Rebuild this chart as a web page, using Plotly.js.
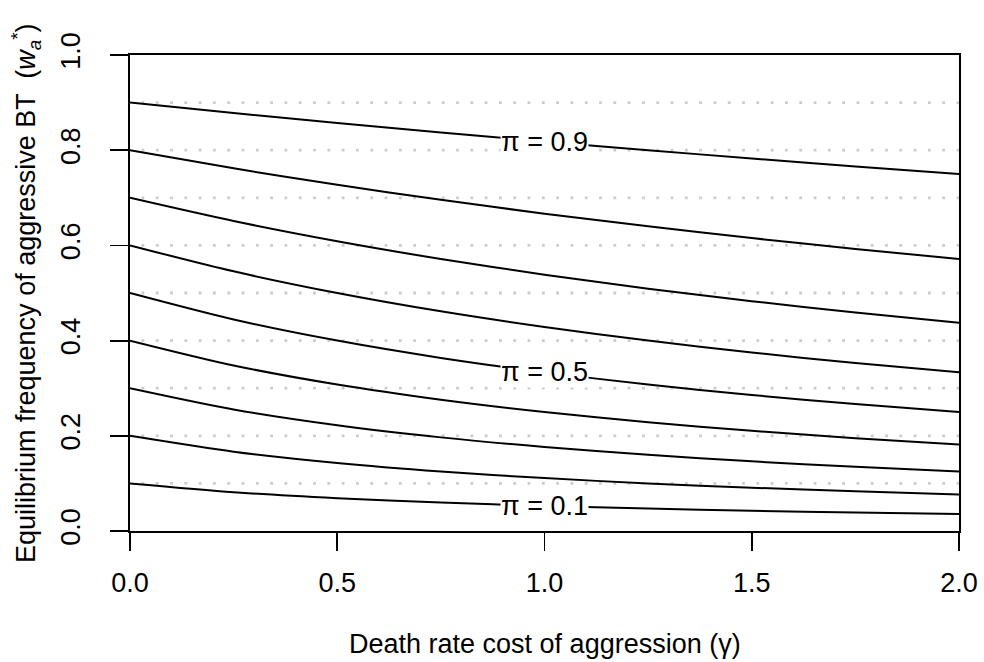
<!DOCTYPE html>
<html>
<head>
<meta charset="utf-8">
<script src="https://cdn.plot.ly/plotly-3.0.1.min.js"></script>
<style>html,body{margin:0;padding:0;background:#fff;}#chart{width:984px;height:662px;}</style>
</head>
<body>
<div id="chart"></div>
<script>
// Death rate cost of aggression (gamma)
const gamma = [0, 0.25, 0.5, 0.75, 1.0, 1.25, 1.5, 1.75, 2.0];
// Equilibrium frequency of aggressive BT for each pi
const pi01 = [0.1, 0.0816, 0.0690, 0.0597, 0.0526, 0.0471, 0.0426, 0.0388, 0.0357];
const pi02 = [0.2, 0.1667, 0.1429, 0.1250, 0.1111, 0.1000, 0.0909, 0.0833, 0.0769];
const pi03 = [0.3, 0.2553, 0.2222, 0.1967, 0.1765, 0.1600, 0.1463, 0.1348, 0.1250];
const pi04 = [0.4, 0.3478, 0.3077, 0.2759, 0.2500, 0.2286, 0.2105, 0.1951, 0.1818];
const pi05 = [0.5, 0.4444, 0.4000, 0.3636, 0.3333, 0.3077, 0.2857, 0.2667, 0.2500];
const pi06 = [0.6, 0.5455, 0.5000, 0.4615, 0.4286, 0.4000, 0.3750, 0.3529, 0.3333];
const pi07 = [0.7, 0.6512, 0.6087, 0.5714, 0.5385, 0.5091, 0.4828, 0.4590, 0.4375];
const pi08 = [0.8, 0.7619, 0.7273, 0.6957, 0.6667, 0.6400, 0.6154, 0.5926, 0.5714];
const pi09 = [0.9, 0.8780, 0.8571, 0.8372, 0.8182, 0.8000, 0.7826, 0.7660, 0.7500];
const seriesList = [pi01, pi02, pi03, pi04, pi05, pi06, pi07, pi08, pi09];
// dotted reference levels
const refLevels = [0.1, 0.2, 0.3, 0.4, 0.5, 0.6, 0.7, 0.8, 0.9];
const refX = [0, 2];
// labelled curves
const labelTexts = ["\u03c0 = 0.9", "\u03c0 = 0.5", "\u03c0 = 0.1"];
const labelSeries = [pi09, pi05, pi01];
const labelIndex = 4;
// axis ticks
const xTickVals = [0, 0.5, 1, 1.5, 2];
const xTickText = ["0.0", "0.5", "1.0", "1.5", "2.0"];
const yTickVals = [0, 0.2, 0.4, 0.6, 0.8, 1.0];
const yTickText = ["0.0", "0.2", "0.4", "0.6", "0.8", "1.0"];

const FONT = "Liberation Sans, Arial, Helvetica, sans-serif";
const FS = 27;
const traces = [];
refLevels.forEach(v => {
  traces.push({
    x: refX, y: [v, v], mode: "lines", hoverinfo: "skip", showlegend: false,
    line: {color: "#cccccc", width: 2.8, dash: "0px,11.5px,2.8px,0px"}
  });
});
seriesList.forEach(s => {
  traces.push({
    x: gamma, y: s, mode: "lines", showlegend: false,
    line: {color: "#000", width: 2, shape: "spline", smoothing: 0.8}
  });
});

const annotations = labelTexts.map((t, i) => ({
  x: gamma[labelIndex], y: labelSeries[i][labelIndex], xref: "x", yref: "y",
  text: t, showarrow: false, bgcolor: "#fff", borderpad: 0,
  font: {family: FONT, size: FS, color: "#000"},
  xanchor: "center", yanchor: "middle"
}));
annotations.push({
  xref: "paper", yref: "paper", x: 0.5, y: (531 - 644) / 476,
  text: "Death rate cost of aggression (\u03b3)", showarrow: false,
  font: {family: FONT, size: FS, color: "#000"}, xanchor: "center", yanchor: "middle"
});
annotations.push({
  xref: "paper", yref: "paper", x: (26 - 130) / 829, y: 0.5,
  text: "Equilibrium frequency of aggressive BT &nbsp;(<i>w</i><sub><i>a</i></sub><sup>*</sup>)",
  showarrow: false, textangle: -90,
  font: {family: FONT, size: FS, color: "#000"}, xanchor: "center", yanchor: "middle"
});

const layout = {
  width: 984, height: 662,
  margin: {l: 130, r: 25, t: 55, b: 131},
  paper_bgcolor: "#fff", plot_bgcolor: "#fff",
  font: {family: FONT, size: FS, color: "#000"},
  showlegend: false,
  xaxis: {
    range: [0, 2], tickvals: xTickVals, ticktext: xTickText,
    ticks: "outside", ticklen: 18, tickwidth: 1.8, tickcolor: "#000",
    showline: true, mirror: true, linecolor: "#000", linewidth: 1.8,
    showgrid: false, zeroline: false, ticklabelstandoff: 9,
    tickfont: {family: FONT, size: FS, color: "#000"}
  },
  yaxis: {
    range: [0, 1], tickvals: yTickVals, ticktext: yTickText, tickangle: -90,
    ticks: "outside", ticklen: 18, tickwidth: 1.8, tickcolor: "#000",
    showline: true, mirror: true, linecolor: "#000", linewidth: 1.8,
    showgrid: false, zeroline: false, ticklabelstandoff: 19,
    tickfont: {family: FONT, size: FS, color: "#000"}
  },
  annotations: annotations
};
Plotly.newPlot("chart", traces, layout, {staticPlot: true, displayModeBar: false});
</script>
</body>
</html>
